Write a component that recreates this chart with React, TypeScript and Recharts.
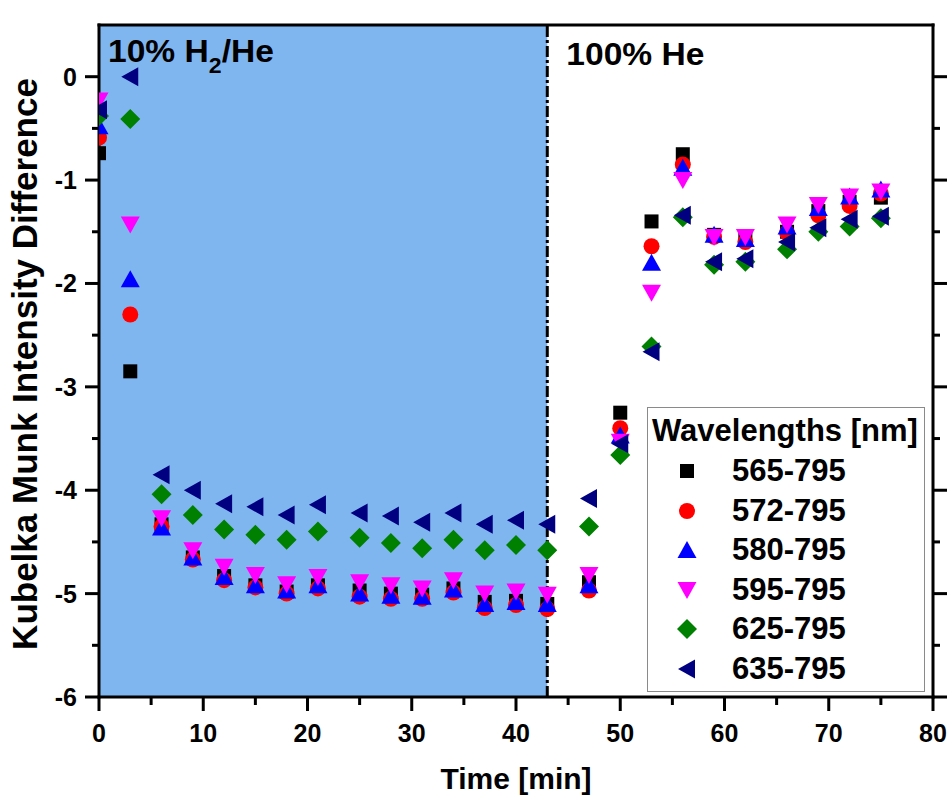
import React from 'react';
import {
  ScatterChart,
  Scatter,
  XAxis,
  YAxis,
  ReferenceArea,
  ReferenceLine,
  Legend,
  Label,
} from 'recharts';

// ---------- data ----------
const times = [0, 3, 6, 9, 12, 15, 18, 21, 25, 28, 31, 34, 37, 40, 43, 47, 50, 53, 56, 59, 62, 66, 69, 72, 75];

const wl565 = [-0.74, -2.85, -4.33, -4.65, -4.83, -4.92, -4.98, -4.92, -4.97, -5.0, -5.01, -4.95, -5.08, -5.07, -5.1, -4.89, -3.25, -1.4, -0.75, -1.53, -1.55, -1.5, -1.3, -1.21, -1.17];
const wl572 = [-0.59, -2.3, -4.35, -4.67, -4.87, -4.94, -5.0, -4.95, -5.03, -5.05, -5.05, -4.99, -5.14, -5.11, -5.15, -4.97, -3.4, -1.64, -0.85, -1.55, -1.6, -1.51, -1.34, -1.25, -1.13];
const wl580 = [-0.48, -1.96, -4.36, -4.65, -4.84, -4.92, -4.97, -4.92, -5.0, -5.02, -5.03, -4.96, -5.1, -5.08, -5.1, -4.92, -3.47, -1.8, -0.88, -1.53, -1.57, -1.45, -1.27, -1.16, -1.09];
const wl595 = [-0.23, -1.43, -4.27, -4.58, -4.74, -4.82, -4.91, -4.84, -4.89, -4.92, -4.95, -4.87, -5.0, -4.98, -5.01, -4.82, -3.53, -2.09, -1.0, -1.55, -1.55, -1.43, -1.24, -1.16, -1.11];
const wl625 = [-0.38, -0.41, -4.04, -4.24, -4.38, -4.43, -4.48, -4.4, -4.46, -4.51, -4.56, -4.48, -4.58, -4.53, -4.58, -4.35, -3.66, -2.61, -1.36, -1.82, -1.79, -1.67, -1.5, -1.45, -1.37];
const wl635 = [-0.32, 0.0, -3.85, -4.0, -4.13, -4.16, -4.24, -4.14, -4.22, -4.25, -4.31, -4.22, -4.33, -4.29, -4.33, -4.08, -3.55, -2.66, -1.34, -1.79, -1.76, -1.6, -1.46, -1.38, -1.35];

const seriesNames = ['565-795', '572-795', '580-795', '595-795', '625-795', '635-795'];
const seriesValues = [wl565, wl572, wl580, wl595, wl625, wl635];
const seriesColors = ['#000000', '#ff0000', '#0000ff', '#ff00ff', '#008000', '#000080'];
const seriesShapes = ['square', 'circle', 'triangleUp', 'triangleDown', 'diamond', 'triangleLeft'];

const xTicks = [0, 5, 10, 15, 20, 25, 30, 35, 40, 45, 50, 55, 60, 65, 70, 75, 80];
const yTicks = [-6, -5.5, -5, -4.5, -4, -3.5, -3, -2.5, -2, -1.5, -1, -0.5, 0];
const xDomain = [0, 80];
const yDomain = [-6, 0.5];

const switchTime = 43;
const phase1Label = { main: '10% H', sub: '2', rest: '/He' };
const phase2Label = '100% He';
const xTitle = 'Time [min]';
const yTitle = 'Kubelka Munk Intensity Difference';
const legendTitle = 'Wavelengths [nm]';

// ---------- styling ----------
const FONT = '"Liberation Sans", Arial, Helvetica, sans-serif';
const SHADE = '#80B6F0';

function marker(kind: string, cx: number, cy: number, color: string) {
  switch (kind) {
    case 'square':
      return <rect x={cx - 7} y={cy - 7} width={14} height={14} fill={color} />;
    case 'circle':
      return <circle cx={cx} cy={cy} r={8} fill={color} />;
    case 'triangleUp':
      return <polygon points={`${cx},${cy - 9} ${cx + 9.5},${cy + 8} ${cx - 9.5},${cy + 8}`} fill={color} />;
    case 'triangleDown':
      return <polygon points={`${cx},${cy + 9} ${cx + 9.5},${cy - 8} ${cx - 9.5},${cy - 8}`} fill={color} />;
    case 'diamond':
      return <polygon points={`${cx},${cy - 10} ${cx + 10},${cy} ${cx},${cy + 10} ${cx - 10},${cy}`} fill={color} />;
    case 'triangleLeft':
      return <polygon points={`${cx - 9},${cy} ${cx + 8},${cy - 9.5} ${cx + 8},${cy + 9.5}`} fill={color} />;
    default:
      return <circle cx={cx} cy={cy} r={7} fill={color} />;
  }
}

const makeShape = (kind: string, color: string) => (props: any) => {
  const { cx, cy } = props;
  if (cx == null || cy == null) return <g />;
  return marker(kind, cx, cy, color);
};

const BottomTick = (props: any) => {
  const { x, y, payload } = props;
  const v = payload.value;
  const major = v % 10 === 0;
  return (
    <g>
      <line x1={x} y1={y} x2={x} y2={y + (major ? 14 : 8)} stroke="#000" strokeWidth={3} />
      {major && (
        <text x={x} y={y + 45} textAnchor="middle" fontSize={25} fontWeight="bold" fontFamily={FONT} fill="#000">
          {v}
        </text>
      )}
    </g>
  );
};

const TopTick = (props: any) => {
  const { x, y, payload } = props;
  const major = payload.value % 10 === 0;
  return <line x1={x} y1={y} x2={x} y2={y - (major ? 13 : 7)} stroke="#000" strokeWidth={3} />;
};

const LeftTick = (props: any) => {
  const { x, y, payload } = props;
  const v = payload.value;
  const major = Number.isInteger(v);
  return (
    <g>
      <line x1={x - (major ? 14 : 7)} y1={y} x2={x} y2={y} stroke="#000" strokeWidth={3} />
      {major && (
        <text x={x - 22} y={y + 9} textAnchor="end" fontSize={25} fontWeight="bold" fontFamily={FONT} fill="#000">
          {String(v)}
        </text>
      )}
    </g>
  );
};

const RightTick = (props: any) => {
  const { x, y, payload } = props;
  const major = Number.isInteger(payload.value);
  return <line x1={x} y1={y} x2={x + (major ? 14 : 7)} y2={y} stroke="#000" strokeWidth={3} />;
};

const Phase1Label = (props: any) => {
  const vb = props.viewBox;
  if (!vb) return null;
  return (
    <g transform={`translate(${vb.x + 9},${vb.y + 37}) scale(1.05,1)`}>
      <text x={0} y={0} fontSize={32} fontWeight="bold" fontFamily={FONT} fill="#000">
        {phase1Label.main}
        <tspan fontSize={22} dy={11}>{phase1Label.sub}</tspan>
        <tspan dy={-11}>{phase1Label.rest}</tspan>
      </text>
    </g>
  );
};

const Phase2Label = (props: any) => {
  const vb = props.viewBox;
  if (!vb) return null;
  return (
    <g transform={`translate(${vb.x + 19},${vb.y + 40}) scale(1.05,1)`}>
      <text x={0} y={0} fontSize={32} fontWeight="bold" fontFamily={FONT} fill="#000">
        {phase2Label}
      </text>
    </g>
  );
};

const XTitle = (props: any) => {
  const vb = props.viewBox;
  if (!vb) return null;
  return (
    <text x={vb.x + vb.width / 2} y={vb.y + 92} textAnchor="middle" fontSize={30} fontWeight="bold" fontFamily={FONT} fill="#000">
      {xTitle}
    </text>
  );
};

const YTitle = (props: any) => {
  const vb = props.viewBox;
  if (!vb) return null;
  const cx = 37;
  const cy = vb.y + vb.height / 2 + 3;
  return (
    <text
      x={cx}
      y={cy}
      transform={`rotate(-90, ${cx}, ${cy})`}
      textAnchor="middle"
      fontSize={35}
      fontWeight="bold"
      fontFamily={FONT}
      fill="#000"
    >
      {yTitle}
    </text>
  );
};

const renderLegend = (props: any) => {
  const payload = props.payload || [];
  return (
    <div
      style={{
        position: 'relative',
        width: 278,
        height: 285,
        boxSizing: 'border-box',
        border: '1.5px solid #8a8a8a',
        background: '#fff',
        fontFamily: FONT,
        fontWeight: 'bold',
        color: '#000',
      }}
    >
      <div style={{ position: 'absolute', left: 4, top: 3, fontSize: 31, lineHeight: '40px', whiteSpace: 'nowrap' }}>
        {legendTitle}
      </div>
      {payload.map((entry: any, i: number) => {
        const idx = seriesNames.indexOf(entry.value);
        const kind = seriesShapes[idx >= 0 ? idx : i];
        const color = seriesColors[idx >= 0 ? idx : i];
        const top = 63 + i * 39.6 - 20;
        return (
          <div key={entry.value} style={{ position: 'absolute', left: 0, top, height: 40, width: '100%' }}>
            <svg width={26} height={26} style={{ position: 'absolute', left: 26, top: 7 }}>
              {marker(kind, 13, 13, color)}
            </svg>
            <span style={{ position: 'absolute', left: 84, top: 0, fontSize: 31, lineHeight: '40px', whiteSpace: 'nowrap' }}>
              {entry.value}
            </span>
          </div>
        );
      })}
    </div>
  );
};

const seriesData = seriesValues.map((vals) => times.map((t, i) => ({ x: t, y: vals[i] })));

export default function App() {
  return (
    <div style={{ position: 'absolute', left: 0, top: 0, width: 950, height: 802, background: '#fff' }}>
      <ScatterChart width={950} height={802} margin={{ top: 10, right: 6, bottom: 0, left: 0 }}>
        <XAxis
          dataKey="x"
          type="number"
          domain={xDomain}
          ticks={xTicks}
          interval={0}
          tickSize={0}
          tickMargin={0}
          tick={<BottomTick />}
          axisLine={{ stroke: '#000', strokeWidth: 3, strokeLinecap: 'square' }}
          height={105}
          allowDataOverflow
        >
          <Label content={<XTitle />} />
        </XAxis>
        <XAxis
          xAxisId="top"
          orientation="top"
          type="number"
          domain={xDomain}
          ticks={xTicks}
          interval={0}
          tickSize={0}
          tickMargin={0}
          tick={<TopTick />}
          axisLine={{ stroke: '#000', strokeWidth: 3, strokeLinecap: 'square' }}
          height={15}
          allowDataOverflow
        />
        <YAxis
          dataKey="y"
          type="number"
          domain={yDomain}
          ticks={yTicks}
          interval={0}
          tickSize={0}
          tickMargin={0}
          tick={<LeftTick />}
          axisLine={{ stroke: '#000', strokeWidth: 3, strokeLinecap: 'square' }}
          width={99}
          allowDataOverflow
        >
          <Label content={<YTitle />} />
        </YAxis>
        <YAxis
          yAxisId="right"
          orientation="right"
          type="number"
          domain={yDomain}
          ticks={yTicks}
          interval={0}
          tickSize={0}
          tickMargin={0}
          tick={<RightTick />}
          axisLine={{ stroke: '#000', strokeWidth: 3, strokeLinecap: 'square' }}
          width={11}
          allowDataOverflow
        />
        <ReferenceArea x1={xDomain[0]} x2={switchTime} fill={SHADE} fillOpacity={1} stroke="none" label={<Phase1Label />} />
        <ReferenceArea x1={switchTime} x2={xDomain[1]} fill="#ffffff" fillOpacity={0} stroke="none" label={<Phase2Label />} />
        <ReferenceLine x={switchTime} stroke="#000" strokeWidth={3} strokeDasharray="11 3 3 3" />
        {seriesNames.map((name, i) => (
          <Scatter
            key={name}
            name={name}
            data={seriesData[i]}
            fill={seriesColors[i]}
            shape={makeShape(seriesShapes[i], seriesColors[i])}
            isAnimationActive={false}
          />
        ))}
        <Legend
          layout="vertical"
          align="center"
          verticalAlign="middle"
          wrapperStyle={{ left: 647, top: 407, width: 278, height: 285 }}
          content={renderLegend}
        />
      </ScatterChart>
    </div>
  );
}
